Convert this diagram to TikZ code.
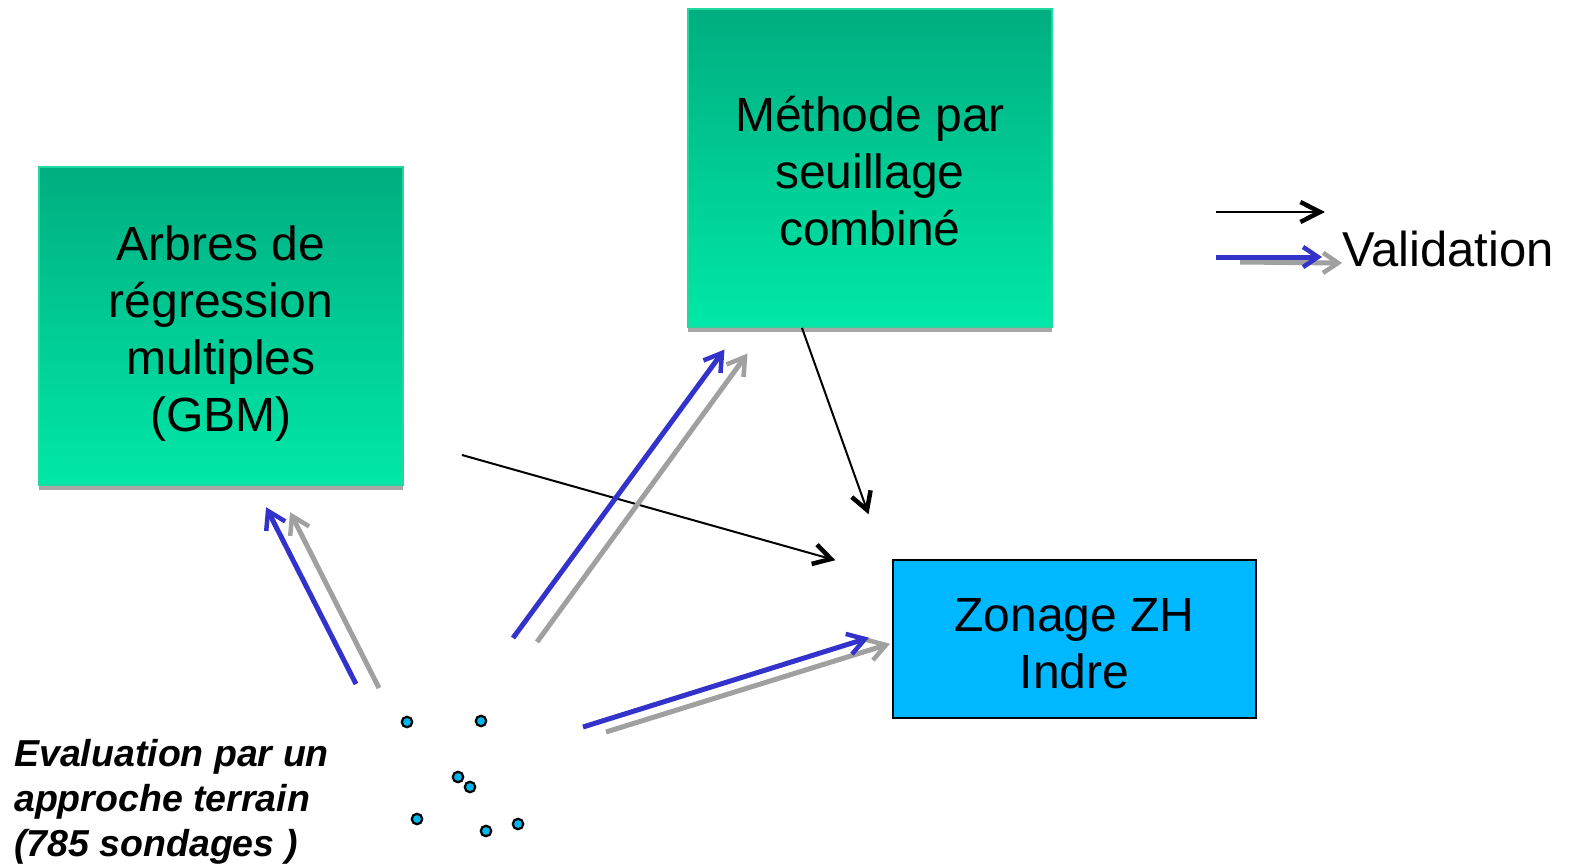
\documentclass[tikz,border=0pt]{standalone}
\usepackage{fontspec}
\setmainfont{Liberation Sans}
\usetikzlibrary{calc}
\definecolor{gtop}{HTML}{00AE80}
\definecolor{gbot}{HTML}{00E8A8}
\definecolor{gborder}{HTML}{20D8A0}
\definecolor{shad}{HTML}{A8A8A8}
\definecolor{zcol}{HTML}{00B8FF}
\definecolor{vblue}{HTML}{3333CC}
\definecolor{vgray}{HTML}{A0A0A0}
\definecolor{dotc}{HTML}{00B4EC}
\tikzset{
  gbox/.style={draw=gborder, line width=1.5pt, top color=gtop, bottom color=gbot,
    inner sep=0pt},
  zbox/.style={draw=black, line width=1.5pt, fill=zcol, inner sep=0pt},
  btxt/.style={align=center, inner sep=0pt, font=\fontsize{48}{57}\selectfont},
  thinline/.style={draw=black, line width=2pt},
  vline/.style={line width=5pt},
  headst/.style={line width=4.5pt, line join=miter, line cap=butt},
  dot/.style={circle, draw=black, line width=2.2pt, fill=dotc, minimum size=10.5pt, inner sep=0pt},
}
% #1 colour, #2 tip coordinate, #3 start coordinate, #4 arm length, #5 half angle
\newcommand\myhead[5]{%
  \draw[headst, draw=#1] ($(#2)!#4!#5:(#3)$) -- (#2) -- ($(#2)!#4!-#5:(#3)$);}
\begin{document}
\begin{tikzpicture}[x=1pt,y=-1pt]
\useasboundingbox (0,0) rectangle (1571,864);
% shadows
\fill[shad] (39,484) rectangle (403,490);
\fill[shad] (688,326) rectangle (1052,332);
% boxes
\node[gbox, minimum width=364pt, minimum height=318pt] (gbm) at (221,326) {};
\node[gbox, minimum width=364pt, minimum height=318pt] (seuil) at (870,168) {};
\node[zbox, minimum width=363pt, minimum height=158pt] (zh) at (1074.5,639) {};
\node[btxt] (gbmt) at ([yshift=-8pt]gbm.center) {Arbres de\\régression\\multiples\\(GBM)};
\node[btxt] (seuilt) at ([yshift=-3pt]seuil.center) {Méthode par\\seuillage\\combiné};
\node[btxt] (zht) at ([yshift=-5pt]zh.center) {Zonage ZH\\Indre};
% field text
\node[anchor=north west, align=left, inner sep=0pt, font=\fontsize{37.5}{45}\selectfont\bfseries\itshape] (terrain) at (14,739) {Evaluation par un\\approche terrain\\(785 sondages )};
% dots
\node[dot] (d1) at (407,722) {};
\node[dot] (d2) at (481,721) {};
\node[dot] (d3) at (458,777) {};
\node[dot] (d4) at (470,787) {};
\node[dot] (d5) at (417,819) {};
\node[dot] (d6) at (486,831) {};
\node[dot] (d7) at (518,824) {};
% coordinates for connectors
\coordinate (a1s) at (462,455); \coordinate (a1e) at (831,559);
\coordinate (a2s) at (802,328); \coordinate (a2e) at (867,510);
\coordinate (b1s) at (356,684); \coordinate (b1e) at (268,511);
\coordinate (g1s) at (379,688); \coordinate (g1e) at (292,516);
\coordinate (b2s) at (513,638); \coordinate (b2e) at (722,353);
\coordinate (g2s) at (537,642); \coordinate (g2e) at (745,357);
\coordinate (b3s) at (583,727); \coordinate (b3e) at (865,639);
\coordinate (g3s) at (606,732); \coordinate (g3e) at (886,645);
% black arrows
\draw[thinline] (a1s) -- (a1e); \myhead{black}{a1e}{a1s}{20pt}{30}
\draw[thinline] (a2s) -- (a2e); \myhead{black}{a2e}{a2s}{20pt}{30}
% validation arrows (gray behind blue)
\draw[vline, draw=vgray] (g1s) -- (g1e); \myhead{vgray}{g1e}{g1s}{20pt}{32}
\draw[vline, draw=vblue] (b1s) -- (b1e); \myhead{vblue}{b1e}{b1s}{20pt}{32}
\draw[vline, draw=vgray] (g2s) -- (g2e); \myhead{vgray}{g2e}{g2s}{20pt}{32}
\draw[vline, draw=vblue] (b2s) -- (b2e); \myhead{vblue}{b2e}{b2s}{20pt}{32}
\draw[vline, draw=vgray] (g3s) -- (g3e); \myhead{vgray}{g3e}{g3s}{20pt}{32}
\draw[vline, draw=vblue] (b3s) -- (b3e); \myhead{vblue}{b3e}{b3s}{20pt}{32}
% legend
\coordinate (l1s) at (1216,212); \coordinate (l1e) at (1320,212);
\coordinate (l2s) at (1216,257); \coordinate (l2e) at (1318,257);
\coordinate (l3s) at (1240,262); \coordinate (l3e) at (1338,263);
\draw[thinline] (l1s) -- (l1e); \myhead{black}{l1e}{l1s}{22pt}{27}
\draw[vline, draw=vgray] (l3s) -- (l3e); \myhead{vgray}{l3e}{l3s}{18pt}{34}
\draw[vline, draw=vblue] (l2s) -- (l2e); \myhead{vblue}{l2e}{l2s}{18pt}{34}
\node[anchor=west, inner sep=0pt, font=\fontsize{49}{57}\selectfont] (valid) at (1342,249) {Validation};
\end{tikzpicture}
\end{document}
